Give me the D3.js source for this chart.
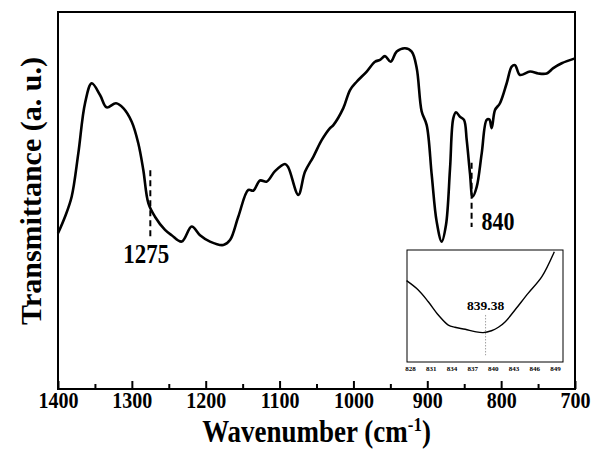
<!DOCTYPE html>
<html>
<head>
<meta charset="utf-8">
<script src="https://cdn.jsdelivr.net/npm/d3@7"></script>
<style>
  html, body { margin: 0; padding: 0; background: #fff; }
  svg { display: block; }
  text { font-family: "Liberation Serif", "Times New Roman", serif; font-weight: bold; fill: #000; }
</style>
</head>
<body>
<script>
// ---- data ----
const wavenumber = [1400, 1390.5, 1381.5, 1372.5, 1363.4, 1354.4, 1343.1, 1334.1, 1321.5, 1311.6, 1300.2, 1291.3, 1284.5, 1277.7, 1268.7, 1255.1, 1246.1, 1232.5, 1219.0, 1207.7, 1194.2, 1176.2, 1167.1, 1155.9, 1142.3, 1135.6, 1126.5, 1117.4, 1106.2, 1092.7, 1088.2, 1074.6, 1065.6, 1054.3, 1043.0, 1031.7, 1027.2, 1013.7, 1004.6, 995.6, 982.0, 970.8, 964.0, 957.3, 949.5, 941.4, 930.2, 921.1, 914.3, 907.6, 900.8, 894.0, 887.3, 880.5, 874.7, 869.2, 864.8, 861.1, 855.7, 850.3, 846.6, 842.2, 838.6, 833.1, 826.3, 819.6, 816.0, 812.8, 808.3, 801.6, 792.5, 785.7, 781.2, 774.5, 760.9, 749.7, 738.3, 729.4, 718.0, 700];
const transmittance = [41.3, 45.7, 51.0, 62.5, 75.8, 81.1, 78.0, 74.7, 75.8, 74.5, 70.9, 65.2, 58.1, 49.3, 45.7, 42.2, 40.8, 39.1, 43.1, 40.8, 39.1, 38.2, 39.5, 45.7, 52.8, 52.6, 55.3, 55.0, 57.8, 59.7, 58.8, 51.5, 57.6, 61.6, 66.0, 69.2, 70.0, 74.5, 79.3, 81.5, 84.2, 86.8, 87.3, 88.3, 86.8, 89.5, 90.4, 89.5, 85.1, 73.6, 70.0, 56.8, 44.4, 39.1, 43.5, 58.5, 71.8, 73.4, 72.2, 71.4, 66.0, 57.2, 51.0, 53.6, 62.5, 71.4, 71.5, 69.2, 74.0, 75.8, 81.1, 85.5, 85.9, 83.3, 84.2, 83.7, 83.7, 85.1, 86.4, 87.7];

const xMajorTicks = [1400, 1300, 1200, 1100, 1000, 900, 800, 700];
const xMinorTicks = [1350, 1250, 1150, 1050, 950, 850, 750];

const markers = [1275, 840];
const markerLabels = ["1275", "840"];

// inset (zoom of the 840 band)
const insetWavenumber = [827.5, 829.2, 830.65, 832.1, 833.55, 834.5, 836.0, 837.4, 838.6, 839.8, 840.8, 841.8, 843.2, 845.1, 847.1, 848.9];
const insetTransmittance = [72.6, 64.3, 53.8, 42.0, 33.0, 31.0, 29.2, 27.1, 26.2, 27.9, 31.0, 36.0, 46.4, 61.3, 76.2, 98.5];
const insetTicks = [828, 831, 834, 837, 840, 843, 846, 849];
const insetPeak = 839.38;
const insetPeakLabel = "839.38";

// ---- chart ----
const W = 592, H = 450;
const svg = d3.select("body").append("svg").attr("width", W).attr("height", H);

const L = 58, R = 575, T = 12, B = 389;
const x = d3.scaleLinear().domain([1400, 700]).range([L, R]);
const y = d3.scaleLinear().domain([0, 100]).range([B, T]);

// axis ticks
const axMajor = d3.axisBottom(x).tickValues(xMajorTicks).tickSize(-8).tickFormat(d3.format("d"));
const gMajor = svg.append("g").attr("transform", `translate(0,${B})`).call(axMajor);
gMajor.select(".domain").remove();
gMajor.selectAll(".tick line").attr("stroke", "#000").attr("stroke-width", 2);
gMajor.selectAll(".tick text").attr("font-size", 20).attr("font-family", null)
  .attr("y", null).attr("dy", null).attr("transform", "translate(0,19) scale(1,1.2)");

const axMinor = d3.axisBottom(x).tickValues(xMinorTicks).tickSize(-5).tickFormat("");
const gMinor = svg.append("g").attr("transform", `translate(0,${B})`).call(axMinor);
gMinor.select(".domain").remove();
gMinor.selectAll(".tick line").attr("stroke", "#000").attr("stroke-width", 2);

// frame
svg.append("rect").attr("x", L).attr("y", T).attr("width", R - L).attr("height", B - T)
  .attr("fill", "none").attr("stroke", "#000").attr("stroke-width", 2);

// main curve
const pts = wavenumber.map((w, i) => [w, transmittance[i]]);
const line = d3.line().x(d => x(d[0])).y(d => y(d[1])).curve(d3.curveCatmullRom.alpha(0.5));
svg.append("path").datum(pts).attr("d", line)
  .attr("fill", "none").attr("stroke", "#000").attr("stroke-width", 2.6).attr("stroke-linejoin", "round");

// marker dashed lines
const markerSpans = [[58, 40], [60, 43]];
markers.forEach((m, i) => {
  svg.append("line").attr("x1", x(m)).attr("x2", x(m))
    .attr("y1", y(markerSpans[i][0])).attr("y2", y(markerSpans[i][1]))
    .attr("stroke", "#000").attr("stroke-width", 2).attr("stroke-dasharray", "6,4");
});
svg.append("text").attr("transform", `translate(${x(markers[0]) - 4},263) scale(1,1.15)`)
  .attr("text-anchor", "middle").attr("font-size", 23).text(markerLabels[0]);
svg.append("text").attr("transform", `translate(${x(markers[1]) + 10},230) scale(1,1.15)`)
  .attr("text-anchor", "start").attr("font-size", 22).text(markerLabels[1]);

// axis titles
const xt = svg.append("text").attr("transform", `translate(${(L + R) / 2},442) scale(1,1.15)`)
  .attr("text-anchor", "middle").attr("font-size", 27);
xt.append("tspan").text("Wavenumber (cm");
xt.append("tspan").attr("font-size", 17).attr("dy", -10).text("-1");
xt.append("tspan").attr("dy", 10).text(")");

svg.append("text").attr("transform", `translate(41,191) rotate(-90)`)
  .attr("text-anchor", "middle").attr("font-size", 30).text("Transmittance (a. u.)");

// ---- inset ----
const iL = 407, iR = 563, iT = 250, iB = 362;
const xi = d3.scaleLinear().domain([828, 849]).range([410, 555]);
const yi = d3.scaleLinear().domain([0, 100]).range([iB, iT]);
svg.append("rect").attr("x", iL).attr("y", iT).attr("width", iR - iL).attr("height", iB - iT)
  .attr("fill", "#fff").attr("stroke", "#000").attr("stroke-width", 1);
const ipts = insetWavenumber.map((w, i) => [w, insetTransmittance[i]]);
const iline = d3.line().x(d => xi(d[0])).y(d => yi(d[1])).curve(d3.curveCatmullRom.alpha(0.5));
svg.append("path").datum(ipts).attr("d", iline)
  .attr("fill", "none").attr("stroke", "#000").attr("stroke-width", 1.4);
const axInset = d3.axisBottom(xi).tickValues(insetTicks).tickSize(0).tickPadding(4).tickFormat(d3.format("d"));
const gi = svg.append("g").attr("transform", `translate(0,${iB})`).call(axInset);
gi.select(".domain").remove();
gi.selectAll(".tick text").attr("font-size", 7).attr("font-family", null).attr("fill", "#333");
svg.append("line").attr("x1", xi(insetPeak) - 3).attr("x2", xi(insetPeak) - 3)
  .attr("y1", yi(42)).attr("y2", yi(6))
  .attr("stroke", "#888").attr("stroke-width", 0.8).attr("stroke-dasharray", "1.5,1.5");
svg.append("text").attr("x", xi(insetPeak) - 3).attr("y", 310).attr("text-anchor", "middle")
  .attr("font-size", 13.5).text(insetPeakLabel);
</script>
</body>
</html>
